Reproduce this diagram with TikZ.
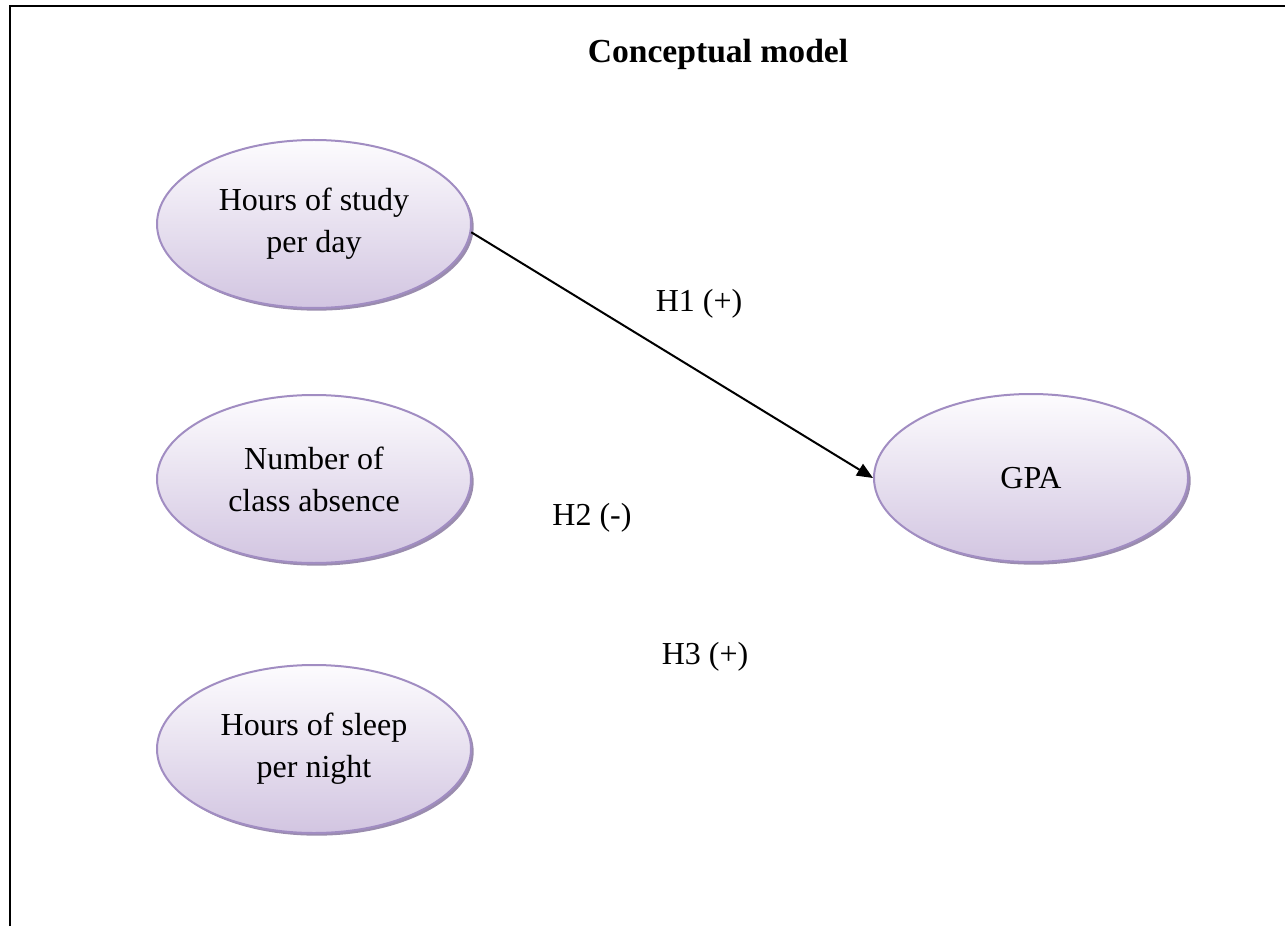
\documentclass[tikz,border=0pt]{standalone}
\usepackage{fontspec}
\setmainfont{Liberation Serif}
\usetikzlibrary{shapes.geometric,arrows.meta,shadows}
\definecolor{bordercol}{HTML}{A18DC2}
\definecolor{topcol}{HTML}{FDFCFE}
\definecolor{botcol}{HTML}{D2C5E1}
\definecolor{shadowcol}{HTML}{9A8CAE}
\begin{document}
\begin{tikzpicture}[x=0.375pt,y=-0.375pt,
  var/.style={ellipse, draw=bordercol, line width=0.75pt, top color=topcol, bottom color=botcol,
    minimum width=117.75pt, minimum height=63pt, align=center,
    font=\fontsize{12}{15.75}\selectfont, inner sep=0pt,
    drop shadow={shadow xshift=1pt, shadow yshift=-1pt, fill=shadowcol, opacity=1}},
  lab/.style={font=\fontsize{12}{14}\selectfont, inner sep=0pt},
  framestyle/.style={line width=0.75pt},
  conn/.style={line width=0.75pt, -{Triangle[length=6pt,width=5pt]}}]
\useasboundingbox (0,0) rectangle (1285,926);
\draw[framestyle] (10,926) -- (10,6) -- (1290,6);
\node[font=\fontsize{12.6}{15}\selectfont\bfseries, inner sep=0pt] (title) at (718,54) {Conceptual model};
\node[var] (study) at (314,224) {Hours of study\\per day};
\node[var] (absence) at (314,479) {Number of\\class absence};
\node[var] (sleep) at (314,749) {Hours of sleep\\per night};
\node[var] (gpa) at (1031,478) {GPA};
\draw[conn] (study.-3) -- (gpa.west);
\node[lab] (h1) at (699,304) {H1 (+)};
\node[lab] (h2) at (592,518) {H2 (-)};
\node[lab] (h3) at (705,657) {H3 (+)};
\end{tikzpicture}
\end{document}
